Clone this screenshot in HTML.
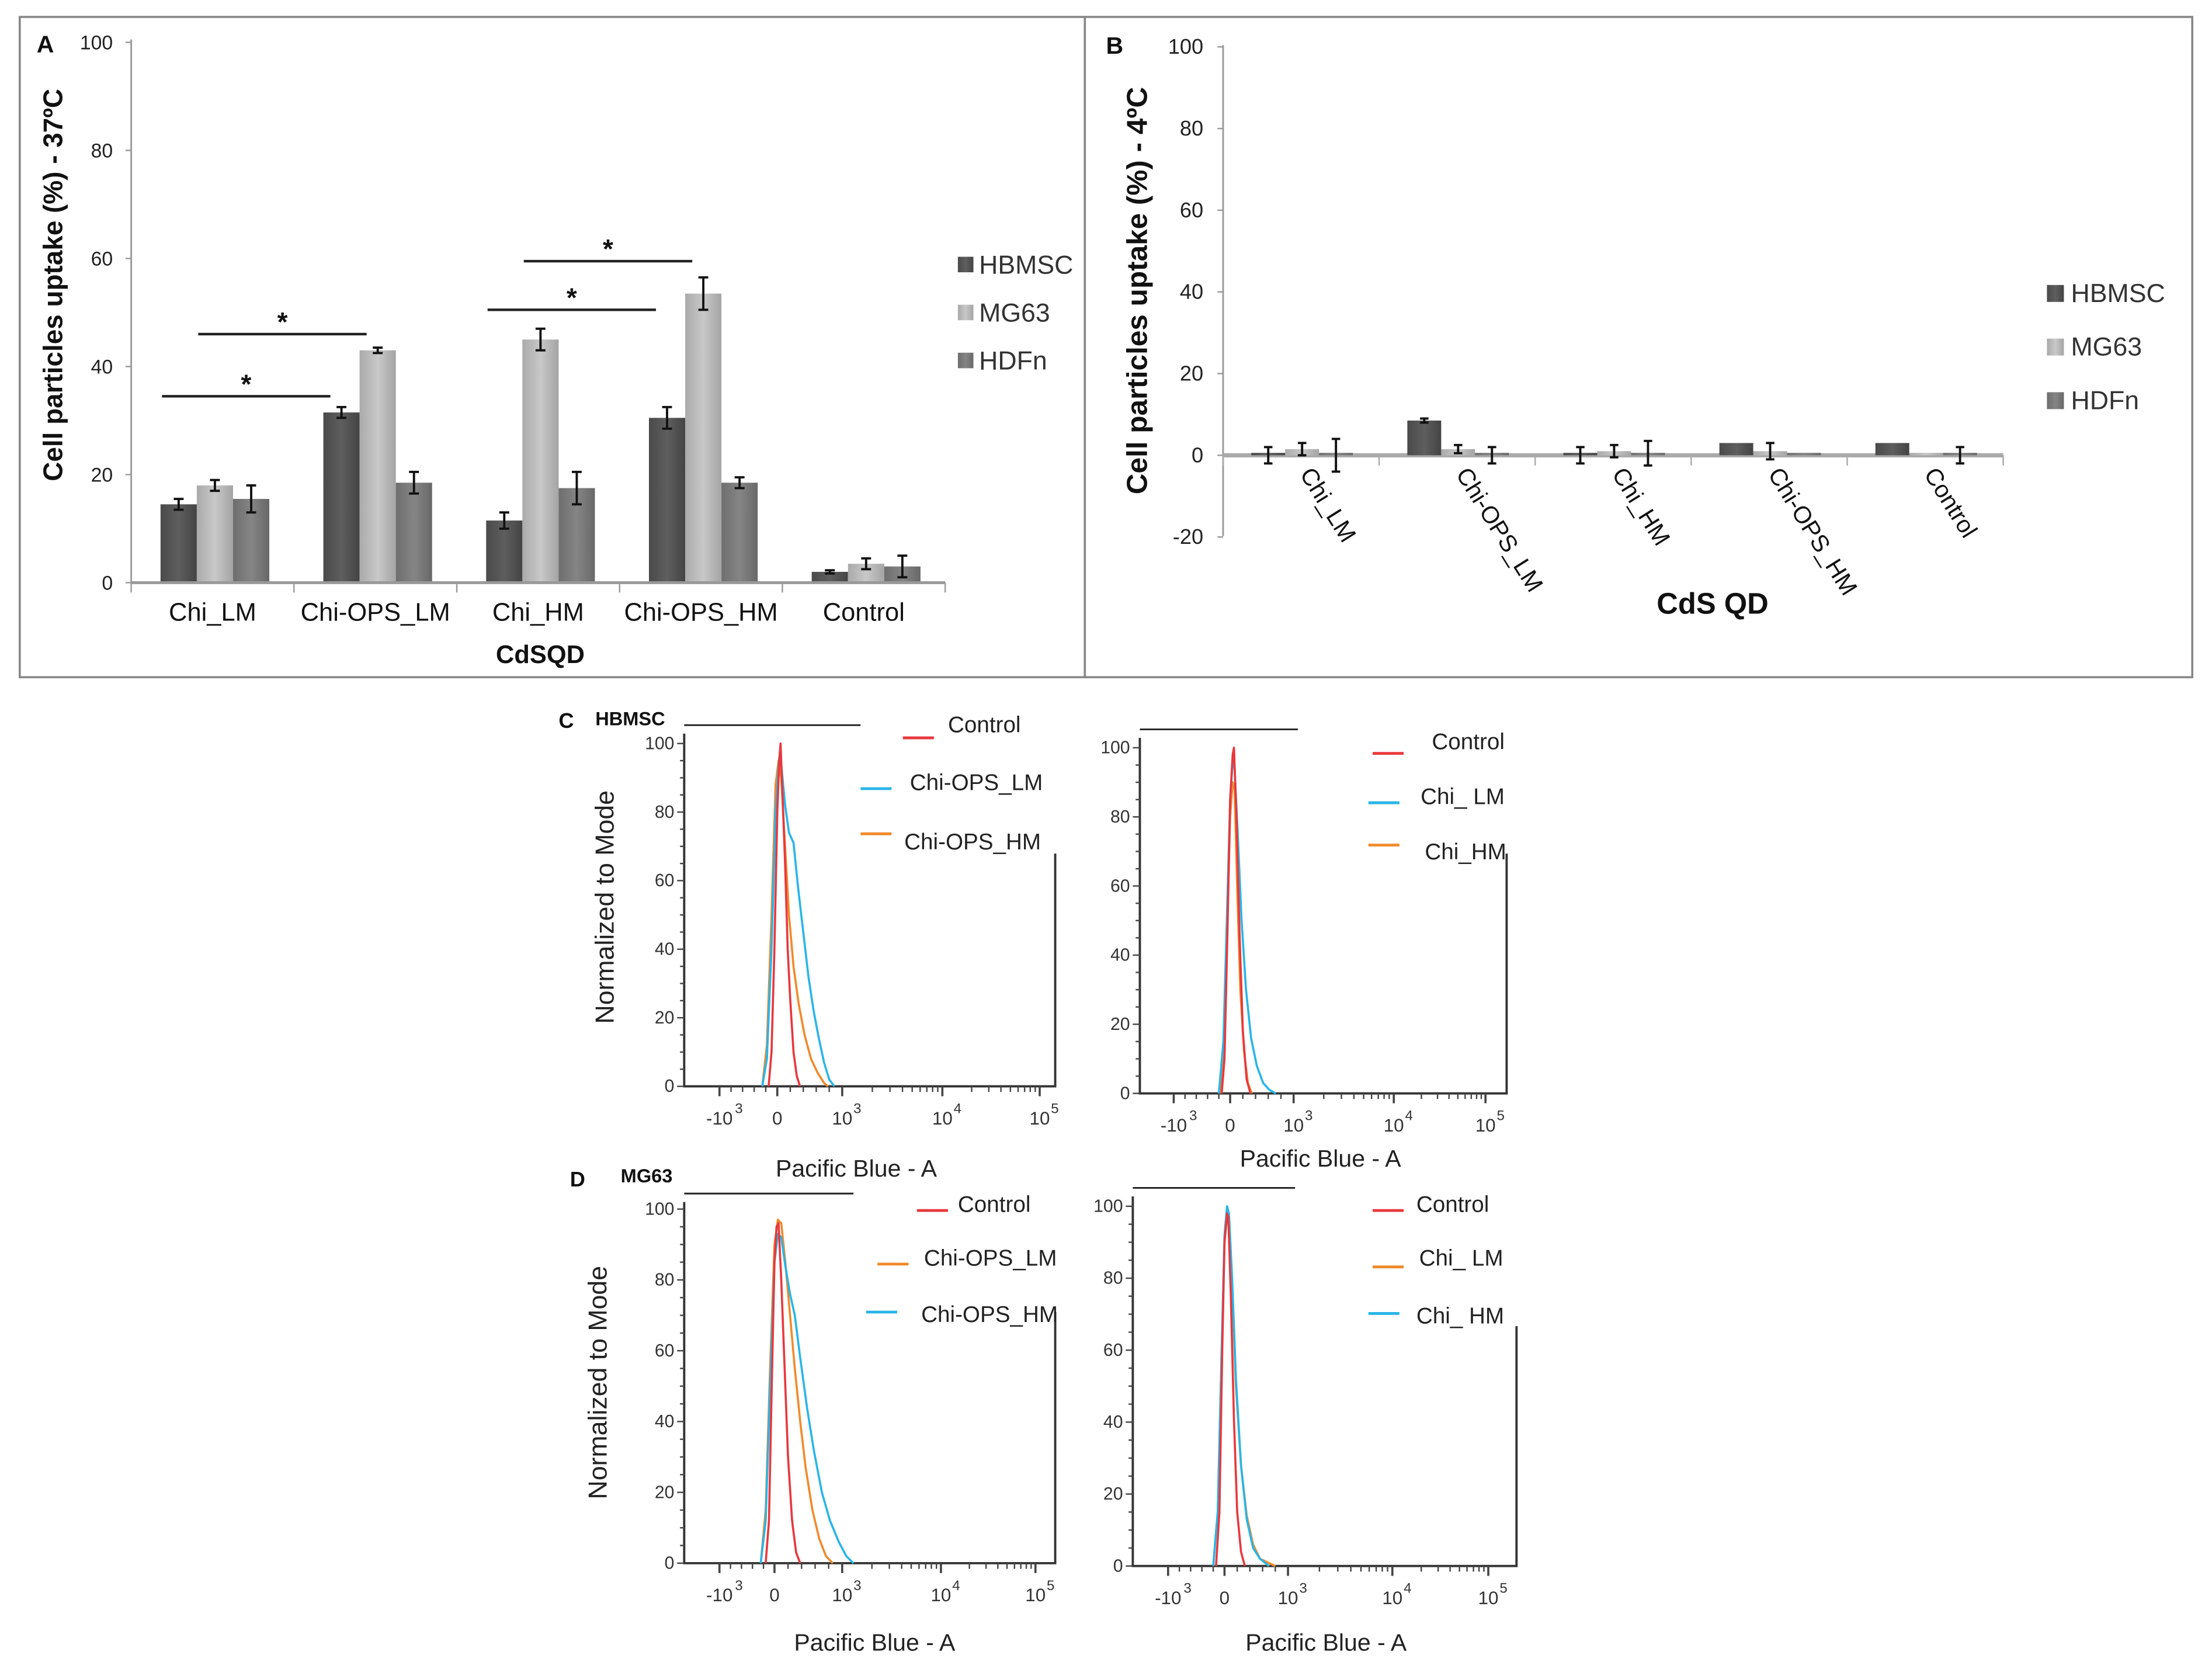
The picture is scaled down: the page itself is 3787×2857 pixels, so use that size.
<!DOCTYPE html>
<html><head><meta charset="utf-8"><style>
html,body{margin:0;padding:0;background:#fff;}
svg{display:block;font-family:"Liberation Sans",Arial,sans-serif;}
</style></head>
<body>
<svg id="fig" xmlns="http://www.w3.org/2000/svg" width="3787" height="2857" viewBox="0 0 1568 1183" preserveAspectRatio="none">
<defs>
<linearGradient id="gH" x1="0" x2="1"><stop offset="0" stop-color="#4a4a4a"/><stop offset="0.5" stop-color="#5e5e5e"/><stop offset="1" stop-color="#444"/></linearGradient>
<linearGradient id="gM" x1="0" x2="1"><stop offset="0" stop-color="#aaa"/><stop offset="0.5" stop-color="#c8c8c8"/><stop offset="1" stop-color="#a4a4a4"/></linearGradient>
<linearGradient id="gD" x1="0" x2="1"><stop offset="0" stop-color="#6e6e6e"/><stop offset="0.5" stop-color="#858585"/><stop offset="1" stop-color="#686868"/></linearGradient>
</defs>
<rect x="14" y="12" width="755" height="468" fill="none" stroke="#888" stroke-width="1.5"/>
<rect x="769" y="12" width="785" height="468" fill="none" stroke="#888" stroke-width="1.5"/>
</svg>
<script>
// ---------- Panel A data ----------
const catsA = ['Chi_LM','Chi-OPS_LM','Chi_HM','Chi-OPS_HM','Control'];
const hbmscA = [14.5, 31.5, 11.5, 30.5, 2];
const mg63A = [18, 43, 45, 53.5, 3.5];
const hdfnA = [15.5, 18.5, 17.5, 18.5, 3];
const errHA = [1, 1, 1.5, 2, 0.3];
const errMA = [1, 0.5, 2, 3, 1];
const errDA = [2.5, 2, 3, 1, 2];
const ticksA = [0, 20, 40, 60, 80, 100];
const sigFromA = [0, 0, 2, 2];
const sigToA = [1, 1, 3, 3];
const sigSeriesA = [0, 1, 0, 1];
const sigValA = [34.5, 46, 50.5, 59.5];
// ---------- Panel B data ----------
const catsB = ['Chi_LM','Chi-OPS_LM','Chi_HM','Chi-OPS_HM','Control'];
const hbmscB = [0, 8.5, 0, 3, 3];
const mg63B = [1.5, 1.5, 1, 1, 0];
const hdfnB = [0, 0, 0.5, 0, 0];
const errHB = [2, 0.5, 2, 0, 0];
const errMB = [1.5, 1, 1.5, 2, 0];
const errDB = [4, 2, 3, 0, 2];
const ticksB = [-20, 0, 20, 40, 60, 80, 100];
const seriesNames = ['HBMSC','MG63','HDFn'];
// ---------- Flow data (intensity, % of mode) ----------
const cCtrlX = [-150,-100,-50,0,30,50,80,120,160,200,250,300,350];
const cCtrlY = [0,10,40,80,95,100,85,65,40,25,10,3,0];
const cLMx = [-260,-180,-100,-30,30,60,120,180,250,320,400,480,560,640,720,800,880];
const cLMy = [0,8,40,80,96,94,82,74,71,58,45,32,22,14,7,2,0];
const cHMx = [-260,-180,-100,-30,20,60,120,180,250,330,420,520,620,720,780];
const cHMy = [0,12,50,88,95,90,70,50,35,24,15,8,4,1,0];
const c2CtrlX = [-150,-100,-50,0,40,60,100,150,200,260,320];
const c2CtrlY = [0,10,45,85,98,100,80,45,18,4,0];
const c2LMx = [-200,-120,-50,0,40,70,120,180,250,330,420,520,620,720];
const c2LMy = [0,15,55,85,96,94,75,50,30,16,8,3,1,0];
const c2HMx = [-180,-110,-50,0,40,70,110,160,220,280,340];
const c2HMy = [0,12,50,80,90,88,60,30,12,3,0];
const dCtrlX = [-160,-100,-50,0,30,60,100,150,200,260,320,380];
const dCtrlY = [0,12,50,85,95,96,80,55,30,12,3,0];
const dLMx = [-250,-160,-80,0,50,100,160,230,300,380,460,560,660,760,860];
const dLMy = [0,15,55,90,97,96,85,70,55,40,27,15,7,2,0];
const dHMx = [-250,-160,-80,0,50,100,160,230,300,380,480,580,700,820,950,1100,1300];
const dHMy = [0,12,50,85,93,92,84,76,70,58,44,32,20,12,6,2,0];
const d2CtrlX = [-150,-90,-40,0,40,60,100,150,200,260,320];
const d2CtrlY = [0,15,60,90,98,97,75,40,15,4,0];
const d2LMx = [-200,-120,-50,0,40,70,120,180,260,350,450,560,680,800];
const d2LMy = [0,15,60,90,97,96,78,50,28,14,6,2,1,0];
const d2HMx = [-200,-120,-50,0,40,70,120,180,260,350,450,560,700];
const d2HMy = [0,15,60,92,100,98,80,52,28,13,5,2,0];

const svg = document.getElementById('fig');
const NS = 'http://www.w3.org/2000/svg';
function mk(tag, attrs){
  const e = document.createElementNS(NS, tag);
  for (const k in attrs) e.setAttribute(k, attrs[k]);
  svg.appendChild(e);
  return e;
}
function tx(x, y, s, size, anchor, extra){
  const e = mk('text', Object.assign({x:x, y:y, 'font-size':size, 'text-anchor':anchor||'start', fill:'#111'}, extra||{}));
  e.textContent = s;
  return e;
}
function errBar(x, yTop, yBot, cap){
  return mk('path', {d:`M${x-cap},${yTop}H${x+cap}M${x},${yTop}V${yBot}M${x-cap},${yBot}H${x+cap}`, stroke:'#111', 'stroke-width':1.6, fill:'none'});
}
const fills = ['url(#gH)','url(#gM)','url(#gD)'];

// ================= PANEL A =================
const yA = v => 413 - v * 3.83;
const gxA = i => 93 + i * 115.4;
const barXA = (i, k) => gxA(i) + 20.8 + k * 25.7;
let e;
e = tx(26, 37, 'A', 17, 'start', {'font-weight':'bold'});
 
e = mk('line', {x1:93, y1:28, x2:93, y2:413, stroke:'#999', 'stroke-width':1.2});
 
ticksA.forEach(t => {
  e = tx(80, yA(t) + 5, String(t), 14, 'end', {fill:'#222'});
   
  e = mk('line', {x1:89, y1:yA(t), x2:93, y2:yA(t), stroke:'#999'});
   
});
const seriesA = [hbmscA, mg63A, hdfnA];
const errsA = [errHA, errMA, errDA];
catsA.forEach((c, i) => {
  seriesA.forEach((s, k) => {
    const x = barXA(i, k);
    e = mk('rect', {x:x, y:yA(s[i]), width:25.7, height:yA(0) - yA(s[i]), fill:fills[k]});
     
    e = errBar(x + 12.85, yA(s[i] + errsA[k][i]), yA(s[i] - errsA[k][i]), 3.5);
     
  });
  e = tx(gxA(i) + 57.7, 440, c, 18, 'middle');
   
});
e = mk('line', {x1:93, y1:413, x2:670, y2:413, stroke:'#999', 'stroke-width':2});
 
for (let i = 0; i <= catsA.length; i++) {
  e = mk('line', {x1:gxA(i), y1:413, x2:gxA(i), y2:420, stroke:'#999'});
   
}
sigValA.forEach((v, j) => {
  const x1 = barXA(sigFromA[j], sigSeriesA[j]) + 1, x2 = barXA(sigToA[j], sigSeriesA[j]) + 5;
  e = mk('line', {x1:x1, y1:yA(v), x2:x2, y2:yA(v), stroke:'#222', 'stroke-width':1.8});
   
  e = tx((x1 + x2) / 2, yA(v) - 2, '*', 19, 'middle', {'font-weight':'bold'});
   
});
e = tx(0, 0, 'Cell particles uptake (%)  - 37ºC', 19, 'middle', {'font-weight':'bold', transform:'translate(44,202) rotate(-90)'});
 
e = tx(383, 470, 'CdSQD', 18, 'middle', {'font-weight':'bold'});
 
seriesNames.forEach((n, k) => {
  const y = 188 + k * 34;
  e = mk('rect', {x:679, y:y - 6, width:11, height:11, fill:fills[k]});
   
  e = tx(694, y + 6, n, 18.5, 'start', {fill:'#333'});
   
});

// ================= PANEL B =================
const yB = v => 322.7 - v * 2.895;
const gxB = i => 867 + i * 110.6;
e = tx(784, 38, 'B', 17, 'start', {'font-weight':'bold'});
 
e = mk('line', {x1:867, y1:32, x2:867, y2:380, stroke:'#999', 'stroke-width':1.2});
 
ticksB.forEach(t => {
  e = tx(853, yB(t) + 5, String(t), 15, 'end', {fill:'#222'});
   
  e = mk('line', {x1:863, y1:yB(t), x2:867, y2:yB(t), stroke:'#999'});
   
});
const seriesB = [hbmscB, mg63B, hdfnB];
const errsB = [errHB, errMB, errDB];
e = mk('line', {x1:867, y1:322.7, x2:1420, y2:322.7, stroke:'#aaa', 'stroke-width':3});
 
catsB.forEach((c, i) => {
  seriesB.forEach((s, k) => {
    const x = gxB(i) + 20 + k * 24;
    const top = Math.min(yB(s[i]), 321);
    e = mk('rect', {x:x, y:top, width:24, height:Math.max(yB(0) - top, 1.5), fill:fills[k]});
     
    if (errsB[k][i] > 0) {
      e = errBar(x + 12, yB(s[i] + errsB[k][i]), yB(s[i] - errsB[k][i]), 3);
       
    }
  });
  e = tx(0, 0, c, 17, 'start', {transform:`translate(${gxB(i) + 54},336) rotate(58)`});
   
});
for (let i = 0; i <= catsB.length; i++) {
  e = mk('line', {x1:gxB(i), y1:322.7, x2:gxB(i), y2:330, stroke:'#aaa'});
   
}
e = tx(0, 0, 'Cell particles uptake (%)  - 4ºC', 20.5, 'middle', {'font-weight':'bold', transform:'translate(813,206) rotate(-90)'});
 
e = tx(1214, 435, 'CdS QD', 21, 'middle', {'font-weight':'bold'});
 
seriesNames.forEach((n, k) => {
  const y = 208 + k * 38;
  e = mk('rect', {x:1451, y:y - 6, width:12, height:12, fill:fills[k]});
   
  e = tx(1468, y + 6, n, 18.5, 'start', {fill:'#333'});
   
});

// ================= FLOW PANELS =================
const RED = '#e8383d', BLUE = '#29b5e8', ORANGE = '#f08a2b';
function flowPanel(P, curves, legend){
  const y = v => P.y0 - v * (P.y0 - P.y100) / 100;
  const xm = v => {
    if (v <= 0) return P.t0 + (v / 1000) * (P.t0 - P.tm);
    if (v <= 1000) return P.t0 + (v / 1000) * (P.t3 - P.t0);
    if (v <= 10000) return P.t3 + Math.log10(v / 1000) * (P.t4 - P.t3);
    return P.t4 + Math.log10(v / 10000) * (P.t5 - P.t4);
  };
  let el;
  el = mk('path', {d:`M${P.ax},${P.topY}H${P.topX2}`, stroke:'#222', 'stroke-width':1.2, fill:'none'});
   
  el = mk('path', {d:`M${P.ax},${P.topY + 6}V${P.y0}H${P.rx}V${P.rTop}`, stroke:'#333', 'stroke-width':1.6, fill:'none'});
   
  for (let t = 0; t <= 100; t += 5) {
    el = mk('line', {x1:P.ax - (t % 20 === 0 ? 5 : 3), y1:y(t), x2:P.ax, y2:y(t), stroke:'#444'});
     
    if (t % 20 === 0) {
      el = tx(P.ax - 7, y(t) + 4, String(t), 12.5, 'end', {fill:'#333'});
       
    }
  }
  const major = [-1000, 0, 1000, 10000, 100000];
  const labs = ['-10', '0', '10', '10', '10'];
  const sup = ['3', '', '3', '4', '5'];
  major.forEach((m, i) => {
    el = mk('line', {x1:xm(m), y1:P.y0, x2:xm(m), y2:P.y0 + 7, stroke:'#444', 'stroke-width':1.5});
     
    el = tx(xm(m), P.y0 + 27, labs[i], 13, 'middle', {fill:'#333'});
     
    if (sup[i]) {
      el = tx(xm(m) + (i === 0 ? 11 : 8), P.y0 + 19, sup[i], 10, 'start', {fill:'#333'});
       
    }
  });
  [-800,-600,-400,-200,200,400,600,800,2000,3000,4000,5000,6000,7000,8000,9000,20000,30000,40000,50000,60000,70000,80000,90000].forEach(m => {
    el = mk('line', {x1:xm(m), y1:P.y0, x2:xm(m), y2:P.y0 + 4, stroke:'#444'});
     
  });
  curves.forEach(c => {
    const d = c.xs.map((v, i) => (i ? 'L' : 'M') + xm(v).toFixed(2) + ',' + y(c.ys[i]).toFixed(2)).join('');
    el = mk('path', {d:d, stroke:c.color, 'stroke-width':1.5, fill:'none', 'stroke-linejoin':'round'});
     
  });
  legend.forEach(l => {
    el = mk('line', {x1:l.lx, y1:l.ly, x2:l.lx + 22, y2:l.ly, stroke:l.color, 'stroke-width':2});
     
    el = tx(l.tx, l.ty, l.text, 16, 'start', {fill:'#222'});
     
  });
  el = tx(P.titleX, P.titleY, 'Pacific Blue - A', 17, 'middle', {fill:'#222'});
   
  if (P.ylabX) {
    el = tx(0, 0, 'Normalized to Mode', 18.5, 'middle', {fill:'#222', transform:`translate(${P.ylabX},${P.ylabY}) rotate(-90)`});
     
  }
}
// C left
flowPanel({ax:485, y0:770, y100:527, topY:514, topX2:610, rx:748, rTop:605, tm:510, t0:551, t3:597, t4:668, t5:737, titleX:607, titleY:834, ylabX:435, ylabY:643},
  [{xs:cHMx, ys:cHMy, color:ORANGE, name:'c-hbmsc-chi-ops-hm-curve'},
   {xs:cLMx, ys:cLMy, color:BLUE, name:'c-hbmsc-chi-ops-lm-curve'},
   {xs:cCtrlX, ys:cCtrlY, color:RED, name:'c-hbmsc-control-curve'}],
  [{lx:640, ly:523, tx:672, ty:519, text:'Control', color:RED},
   {lx:610, ly:559, tx:645, ty:560, text:'Chi-OPS_LM', color:BLUE},
   {lx:610, ly:591, tx:641, ty:602, text:'Chi-OPS_HM', color:ORANGE}]);
// C right
flowPanel({ax:808, y0:775, y100:530, topY:517, topX2:920, rx:1068, rTop:605, tm:832, t0:872, t3:917, t4:988, t5:1053, titleX:936, titleY:827, ylabX:0},
  [{xs:c2HMx, ys:c2HMy, color:ORANGE, name:'c-right-chi-hm-curve'},
   {xs:c2LMx, ys:c2LMy, color:BLUE, name:'c-right-chi-lm-curve'},
   {xs:c2CtrlX, ys:c2CtrlY, color:RED, name:'c-right-control-curve'}],
  [{lx:973, ly:534, tx:1015, ty:531, text:'Control', color:RED},
   {lx:970, ly:569, tx:1007, ty:570, text:'Chi_ LM', color:BLUE},
   {lx:970, ly:599, tx:1010, ty:609, text:'Chi_HM', color:ORANGE}]);
// D left
flowPanel({ax:485, y0:1108, y100:857, topY:846, topX2:605, rx:748, rTop:930, tm:510, t0:549, t3:597, t4:667, t5:734, titleX:620, titleY:1170, ylabX:430, ylabY:980},
  [{xs:dLMx, ys:dLMy, color:ORANGE, name:'d-mg63-chi-ops-lm-curve'},
   {xs:dHMx, ys:dHMy, color:BLUE, name:'d-mg63-chi-ops-hm-curve'},
   {xs:dCtrlX, ys:dCtrlY, color:RED, name:'d-mg63-control-curve'}],
  [{lx:650, ly:858, tx:679, ty:859, text:'Control', color:RED},
   {lx:622, ly:896, tx:655, ty:897, text:'Chi-OPS_LM', color:ORANGE},
   {lx:614, ly:930, tx:653, ty:937, text:'Chi-OPS_HM', color:BLUE}]);
// D right
flowPanel({ax:803, y0:1110, y100:855, topY:842, topX2:918, rx:1075, rTop:940, tm:828, t0:868, t3:913, t4:987, t5:1055, titleX:940, titleY:1170, ylabX:0},
  [{xs:d2LMx, ys:d2LMy, color:ORANGE, name:'d-right-chi-lm-curve'},
   {xs:d2HMx, ys:d2HMy, color:BLUE, name:'d-right-chi-hm-curve'},
   {xs:d2CtrlX, ys:d2CtrlY, color:RED, name:'d-right-control-curve'}],
  [{lx:973, ly:858, tx:1004, ty:859, text:'Control', color:RED},
   {lx:973, ly:898, tx:1006, ty:897, text:'Chi_ LM', color:ORANGE},
   {lx:970, ly:931, tx:1004, ty:938, text:'Chi_ HM', color:BLUE}]);

e = tx(396, 516, 'C', 15, 'start', {'font-weight':'bold'});
 
e = tx(422, 514, 'HBMSC', 13.5, 'start', {'font-weight':'bold'});
 
e = tx(404, 841, 'D', 15, 'start', {'font-weight':'bold'});
 
e = tx(440, 838, 'MG63', 13.5, 'start', {'font-weight':'bold'});
 
</script>
</body></html>
